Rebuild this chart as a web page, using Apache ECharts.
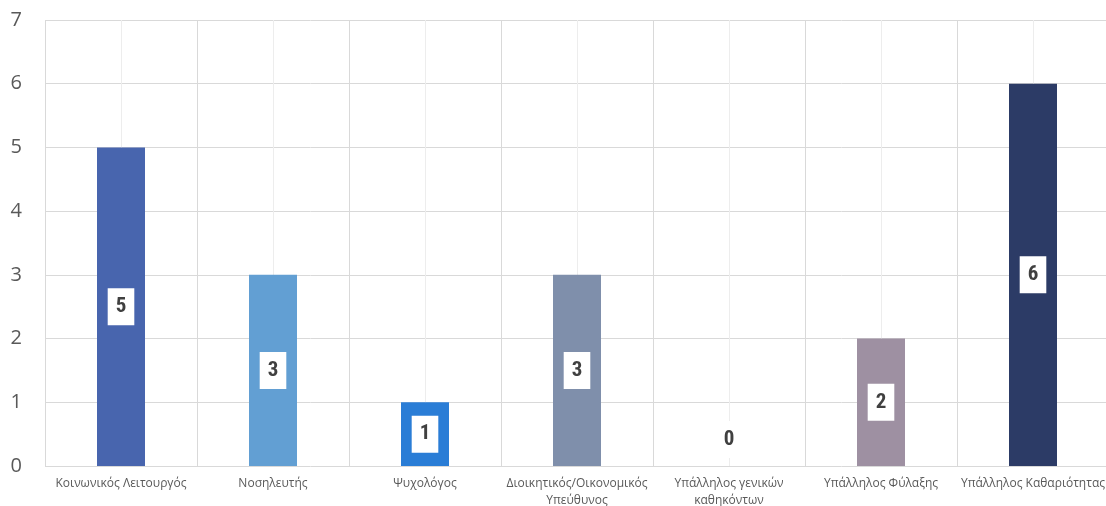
<!DOCTYPE html>
<html><head><meta charset="utf-8">
<script src="https://cdn.jsdelivr.net/npm/echarts@6/dist/echarts.min.js"></script>
<style>html,body{margin:0;padding:0;background:#fff}#c{width:1106px;height:506px}</style>
</head><body><div id="c"></div>
<script>
const categories = ['Κοινωνικός Λειτουργός','Νοσηλευτής','Ψυχολόγος','Διοικητικός/Οικονομικός\nΥπεύθυνος','Υπάλληλος γενικών\nκαθηκόντων','Υπάλληλος Φύλαξης','Υπάλληλος Καθαριότητας'];
const values = [5, 3, 1, 3, 0, 2, 6];
const yTicks = [0, 1, 2, 3, 4, 5, 6, 7];
const palette = ['#4865AE','#629FD3','#2A7DD6','#7F8FAB','#A5A5A5','#9E90A2','#2C3B66'];

const chart = echarts.init(document.getElementById('c'), null, {renderer:'canvas'});
const labelFont = "'Liberation Sans Narrow','Arial Narrow','Roboto Condensed','Liberation Sans',sans-serif";
const data = values.map((v,i)=>{
  const d = {value:v, itemStyle:{color:palette[i]}};
  if (v === 0) d.label = {position:'top', distance:8};
  return d;
});
chart.setOption({
  animation:false,
  grid:{left:45, right:-3, top:20, bottom:40, outerBoundsMode:'none', containLabel:false},
  xAxis:[{
    type:'category', data:categories,
    axisLine:{show:false}, axisTick:{show:false},
    splitLine:{show:false},
    axisLabel:{interval:0, margin:9, color:'#595959', fontSize:12, fontFamily:"'Open Sans','Noto Sans',sans-serif", lineHeight:17}
  },{
    type:'value', min:0, max:categories.length, interval:1, show:true, position:'top',
    axisLine:{show:false}, axisTick:{show:false}, axisLabel:{show:false},
    splitLine:{show:true, lineStyle:{color:'#d9d9d9', width:1}},
    minorTick:{show:false, splitNumber:2},
    minorSplitLine:{show:true, lineStyle:{color:'#ededed', width:1}}
  }],
  yAxis:{
    type:'value', min:yTicks[0], max:yTicks[yTicks.length-1], interval:1,
    axisLine:{show:false}, axisTick:{show:false},
    axisLabel:{color:'#595959', fontSize:20, margin:23, fontFamily:"'Open Sans','Noto Sans',sans-serif"},
    splitLine:{lineStyle:{color:'#d9d9d9', width:1}}
  },
  series:[{
    type:'bar', xAxisIndex:0, data:data, barWidth:48,
    label:{show:true, position:'inside', backgroundColor:'#fff', padding:[8,8,8,8],
      color:'#404040', fontSize:21, fontWeight:'bold', fontFamily:labelFont}
  }]
});
</script></body></html>
